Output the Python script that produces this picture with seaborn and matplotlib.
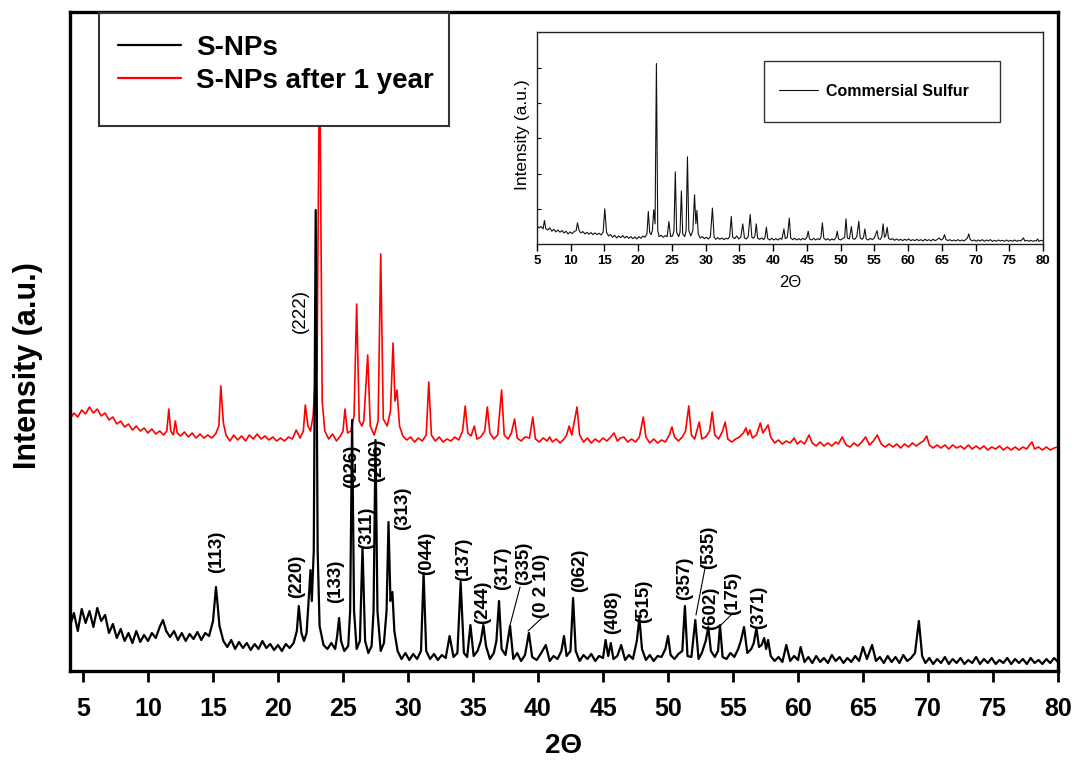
"""XRD patterns of S-NPs, fresh and aged, with commercial sulfur inset."""

import matplotlib.pyplot as plt
import numpy as np
import pandas as pd
import seaborn as sns
from matplotlib.lines import Line2D
from matplotlib.patches import Rectangle

# --- S-NPs (fresh), vertices (2theta, a.u.)
snp_theta = [
    4.0, 4.3, 4.6, 4.9, 5.2, 5.5, 5.8, 6.1, 6.4, 6.7, 7.0, 7.3, 7.6, 7.9, 8.2, 8.5, 8.8, 9.1, 9.4, 9.7,
    10.0, 10.3, 10.6, 10.9, 11.15, 11.4, 11.7, 12.0, 12.3, 12.6, 12.9, 13.2, 13.5, 13.8, 14.1, 14.4, 14.7,
    15.0, 15.23, 15.5, 15.8, 16.1, 16.4, 16.7, 17.0, 17.3, 17.6, 17.9, 18.2, 18.5, 18.8, 19.1, 19.4, 19.7,
    20.0, 20.3, 20.6, 20.9, 21.2, 21.45, 21.6, 21.8, 22.0, 22.2, 22.4, 22.5, 22.6, 22.75, 22.9, 23.05,
    23.2, 23.5, 23.8, 24.1, 24.4, 24.55, 24.7, 24.85, 25.1, 25.4, 25.55, 25.7, 25.85, 26.05, 26.3, 26.5,
    26.7, 26.95, 27.2, 27.35, 27.5, 27.65, 27.9, 28.15, 28.35, 28.5, 28.65, 28.8, 28.95, 29.2, 29.5, 29.8,
    30.1, 30.4, 30.7, 31.0, 31.2, 31.4, 31.7, 32.0, 32.3, 32.6, 32.9, 33.2, 33.5, 33.8, 34.05, 34.3,
    34.55, 34.8, 35.05, 35.35, 35.6, 35.8, 36.0, 36.3, 36.6, 36.8, 37.0, 37.2, 37.5, 37.85, 38.1, 38.4,
    38.7, 39.0, 39.3, 39.55, 39.9, 40.2, 40.6, 40.9, 41.2, 41.5, 41.8, 42.0, 42.2, 42.5, 42.7, 42.9,
    43.2, 43.5, 43.8, 44.1, 44.4, 44.7, 45.0, 45.2, 45.4, 45.6, 45.8, 46.1, 46.4, 46.7, 47.0, 47.3,
    47.6, 47.8, 48.0, 48.3, 48.6, 48.9, 49.2, 49.5, 49.8, 50.0, 50.2, 50.5, 50.8, 51.1, 51.3, 51.5,
    51.8, 52.1, 52.35, 52.6, 52.9, 53.1, 53.3, 53.6, 53.85, 54.0, 54.2, 54.5, 54.8, 55.1, 55.4, 55.6,
    55.85, 56.1, 56.4, 56.6, 56.8, 57.0, 57.2, 57.4, 57.55, 57.7, 57.9, 58.2, 58.5, 58.8, 59.1, 59.4,
    59.7, 60.0, 60.2, 60.5, 60.8, 61.1, 61.4, 61.7, 62.0, 62.3, 62.6, 62.9, 63.2, 63.5, 63.8, 64.1,
    64.4, 64.7, 65.0, 65.3, 65.7, 66.0, 66.3, 66.6, 66.9, 67.2, 67.5, 67.8, 68.1, 68.4, 68.7, 69.0,
    69.3, 69.55, 69.8, 70.1, 70.4, 70.7, 71.0, 71.3, 71.6, 71.9, 72.2, 72.5, 72.8, 73.1, 73.4, 73.7,
    74.0, 74.3, 74.6, 74.9, 75.2, 75.5, 75.8, 76.1, 76.4, 76.7, 77.0, 77.3, 77.6, 77.9, 78.2, 78.5,
    78.8, 79.1, 79.4, 79.7, 80.0,
]
snp_counts = [
    45, 58, 40, 62, 48, 60, 44, 63, 50, 56, 38, 47, 33, 42, 30, 38, 28, 40, 29, 36,
    30, 38, 33, 44, 51, 40, 34, 40, 31, 38, 30, 37, 32, 39, 31, 38, 35,
    50, 84, 45, 30, 24, 31, 22, 29, 23, 28, 21, 27, 22, 30, 23, 27, 21,
    26, 20, 27, 23, 28, 40, 65, 38, 30, 38, 80, 101, 70, 120, 461, 120,
    45, 26, 22, 28, 22, 35, 53, 30, 20, 25, 60, 251, 60, 22, 30, 124,
    30, 18, 25, 60, 231, 60, 20, 28, 60, 149, 70, 79, 40, 20, 12, 18,
    11, 17, 12, 20, 98, 20, 12, 17, 11, 16, 13, 35, 14, 18, 89, 18,
    14, 46, 15, 20, 30, 46, 25, 12, 18, 30, 70, 22, 16, 45, 12, 18,
    10, 16, 38, 14, 11, 17, 26, 10, 15, 12, 20, 35, 15, 20, 73, 20,
    10, 16, 12, 17, 10, 15, 13, 31, 15, 28, 12, 15, 26, 11, 16, 12,
    30, 53, 22, 11, 16, 10, 15, 14, 22, 35, 16, 12, 17, 20, 65, 15,
    14, 51, 12, 18, 30, 44, 20, 14, 20, 46, 14, 12, 18, 14, 22, 30,
    44, 18, 22, 28, 43, 24, 26, 33, 22, 31, 15, 10, 14, 9, 26, 10,
    15, 11, 24, 9, 14, 8, 15, 9, 13, 8, 16, 10, 14, 8, 13, 9,
    15, 10, 24, 12, 26, 10, 14, 8, 15, 9, 14, 8, 16, 10, 13, 18,
    50, 15, 8, 13, 7, 12, 8, 14, 7, 12, 8, 13, 7, 11, 8, 14,
    7, 12, 8, 13, 7, 11, 8, 13, 7, 12, 8, 12, 7, 13, 8, 11,
    7, 12, 8, 13, 9,
]

# --- S-NPs after 1 year
aged_theta = [
    4.0, 4.3, 4.6, 4.9, 5.2, 5.5, 5.8, 6.1, 6.4, 6.7, 7.0, 7.3, 7.6, 7.9, 8.2, 8.5, 8.8, 9.1, 9.4, 9.7,
    10.0, 10.3, 10.6, 10.9, 11.2, 11.45, 11.6, 11.75, 11.95, 12.1, 12.25, 12.5, 12.8, 13.1, 13.4, 13.7,
    14.0, 14.3, 14.6, 14.9, 15.2, 15.45, 15.6, 15.8, 16.0, 16.3, 16.6, 16.9, 17.2, 17.5, 17.8, 18.1,
    18.4, 18.7, 19.0, 19.3, 19.6, 19.9, 20.2, 20.5, 20.8, 21.1, 21.4, 21.7, 21.95, 22.1, 22.3, 22.5,
    22.7, 22.85, 23.0, 23.2, 23.4, 23.6, 23.9, 24.2, 24.5, 24.8, 25.0, 25.15, 25.35, 25.6, 25.85, 26.05,
    26.25, 26.45, 26.6, 26.9, 27.1, 27.4, 27.7, 27.9, 28.1, 28.4, 28.65, 28.85, 29.0, 29.15, 29.35, 29.6,
    29.9, 30.2, 30.5, 30.8, 31.1, 31.4, 31.6, 31.8, 32.1, 32.4, 32.7, 33.0, 33.3, 33.6, 33.9, 34.2,
    34.4, 34.6, 34.85, 35.1, 35.3, 35.6, 35.9, 36.1, 36.3, 36.6, 36.9, 37.2, 37.4, 37.7, 37.95, 38.2,
    38.4, 38.7, 39.0, 39.35, 39.6, 39.8, 40.1, 40.4, 40.7, 40.9, 41.1, 41.4, 41.7, 42.0, 42.2, 42.4,
    42.6, 43.0, 43.2, 43.5, 43.8, 44.1, 44.4, 44.7, 45.0, 45.3, 45.6, 45.85, 46.1, 46.35, 46.6, 46.9,
    47.2, 47.5, 47.8, 48.1, 48.3, 48.6, 48.9, 49.2, 49.5, 49.8, 50.1, 50.3, 50.5, 50.8, 51.1, 51.35,
    51.6, 51.8, 52.05, 52.4, 52.6, 52.9, 53.2, 53.4, 53.6, 53.9, 54.2, 54.4, 54.6, 54.9, 55.2, 55.5,
    55.8, 56.0, 56.15, 56.3, 56.5, 56.8, 57.1, 57.3, 57.5, 57.7, 57.9, 58.2, 58.5, 58.8, 59.1, 59.4,
    59.7, 59.95, 60.2, 60.5, 60.85, 61.1, 61.4, 61.7, 62.0, 62.3, 62.6, 62.9, 63.1, 63.4, 63.7, 64.0,
    64.3, 64.6, 64.9, 65.2, 65.5, 65.8, 66.1, 66.4, 66.7, 67.0, 67.3, 67.6, 67.9, 68.2, 68.5, 68.8,
    69.1, 69.4, 69.65, 69.9, 70.1, 70.4, 70.7, 71.0, 71.3, 71.6, 71.9, 72.2, 72.5, 72.8, 73.1, 73.4,
    73.7, 74.0, 74.3, 74.6, 74.9, 75.2, 75.5, 75.8, 76.1, 76.4, 76.7, 77.0, 77.3, 77.6, 77.8, 78.0,
    78.2, 78.5, 78.8, 79.1, 79.4, 79.7, 80.0,
]
aged_counts = [
    252, 258, 254, 261, 257, 264, 258, 262, 255, 258, 251, 254, 247, 250, 244, 247, 241, 245, 240, 243,
    238, 242, 237, 240, 236, 240, 262, 240, 236, 250, 238, 235, 239, 234, 238, 233,
    237, 233, 236, 233, 237, 245, 285, 248, 236, 230, 236, 231, 235, 230, 236, 232,
    237, 232, 235, 231, 234, 230, 233, 230, 234, 232, 241, 233, 240, 266, 245, 240,
    255, 288, 300, 630, 270, 240, 232, 237, 230, 235, 240, 262, 238, 240, 255, 367,
    250, 245, 250, 316, 245, 236, 250, 417, 252, 245, 260, 328, 270, 281, 245, 235,
    231, 234, 229, 233, 230, 236, 289, 236, 230, 234, 229, 232, 230, 234, 231, 240,
    265, 238, 235, 245, 232, 234, 240, 264, 238, 232, 236, 281, 236, 232, 238, 252,
    233, 230, 234, 233, 254, 232, 229, 233, 230, 234, 229, 232, 228, 232, 236, 245,
    236, 264, 236, 229, 233, 228, 232, 229, 233, 230, 234, 238, 230, 233, 234, 229,
    232, 229, 234, 254, 234, 228, 232, 228, 231, 229, 236, 244, 234, 230, 234, 240,
    265, 236, 232, 249, 232, 234, 240, 259, 236, 232, 240, 249, 232, 229, 232, 234,
    238, 243, 236, 241, 233, 236, 248, 238, 242, 246, 234, 228, 231, 227, 230, 228,
    233, 227, 230, 227, 236, 228, 225, 229, 225, 228, 225, 229, 227, 234, 226, 224,
    228, 225, 229, 234, 226, 230, 236, 227, 224, 227, 224, 227, 223, 227, 224, 228,
    225, 228, 230, 235, 226, 223, 226, 223, 226, 222, 226, 223, 225, 222, 226, 222,
    225, 222, 225, 221, 224, 222, 225, 221, 224, 221, 224, 221, 224, 222, 226, 229,
    222, 224, 221, 224, 221, 223, 224,
]

# --- commercial sulfur (inset)
comm_theta = [
    5.0, 5.3, 5.6, 5.9, 6.1, 6.3, 6.6, 6.9, 7.2, 7.5, 7.8, 8.1, 8.4, 8.7, 9.0, 9.3, 9.6, 9.9, 10.2,
    10.5, 10.8, 11.0, 11.25, 11.5, 11.8, 12.1, 12.4, 12.7, 13.0, 13.3, 13.6, 13.9, 14.2, 14.5, 14.8,
    15.05, 15.3, 15.6, 15.9, 16.2, 16.5, 16.8, 17.1, 17.4, 17.7, 18.0, 18.3, 18.6, 18.9, 19.2, 19.5,
    19.8, 20.1, 20.4, 20.7, 21.0, 21.3, 21.5, 21.7, 21.9, 22.1, 22.3, 22.5, 22.7, 22.9, 23.1, 23.4,
    23.7, 24.0, 24.3, 24.55, 24.8, 25.1, 25.3, 25.5, 25.7, 26.0, 26.2, 26.4, 26.6, 26.9, 27.1, 27.3,
    27.5, 27.8, 28.1, 28.35, 28.55, 28.7, 28.9, 29.2, 29.5, 29.8, 30.1, 30.4, 30.7, 31.0, 31.25, 31.5,
    31.8, 32.1, 32.4, 32.7, 33.0, 33.3, 33.55, 33.8, 34.0, 34.3, 34.6, 34.9, 35.2, 35.5, 35.75, 36.0,
    36.3, 36.6, 36.85, 37.1, 37.3, 37.5, 37.7, 38.0, 38.3, 38.6, 38.8, 39.0, 39.2, 39.5, 39.8, 40.1,
    40.4, 40.7, 41.0, 41.3, 41.6, 41.8, 42.1, 42.4, 42.6, 42.9, 43.2, 43.5, 43.8, 44.1, 44.4, 44.7,
    45.0, 45.2, 45.4, 45.7, 46.0, 46.3, 46.6, 46.9, 47.1, 47.3, 47.5, 47.8, 48.1, 48.4, 48.7, 49.0,
    49.3, 49.5, 49.7, 50.0, 50.3, 50.6, 50.8, 51.0, 51.3, 51.6, 51.8, 52.1, 52.4, 52.7, 52.9, 53.2,
    53.4, 53.6, 53.8, 54.1, 54.4, 54.7, 55.0, 55.4, 55.6, 55.9, 56.1, 56.3, 56.5, 56.7, 56.9, 57.1,
    57.4, 57.7, 58.0, 58.3, 58.6, 58.9, 59.2, 59.5, 59.8, 60.1, 60.4, 60.7, 61.0, 61.3, 61.6, 61.9,
    62.2, 62.5, 62.8, 63.1, 63.4, 63.7, 64.0, 64.3, 64.6, 64.9, 65.2, 65.4, 65.6, 65.9, 66.2, 66.5,
    66.8, 67.1, 67.4, 67.7, 68.0, 68.3, 68.6, 68.8, 69.0, 69.2, 69.5, 69.8, 70.1, 70.4, 70.7, 71.0,
    71.3, 71.6, 71.9, 72.2, 72.5, 72.8, 73.1, 73.4, 73.7, 74.0, 74.3, 74.6, 74.9, 75.2, 75.5, 75.8,
    76.1, 76.4, 76.7, 77.1, 77.3, 77.6, 77.9, 78.2, 78.5, 78.8, 79.0, 79.2, 79.4, 79.7, 80.0,
]
comm_counts = [
    55, 48, 52, 45, 70, 46, 42, 48, 38, 44, 36, 42, 35, 40, 33, 38, 30, 36, 31,
    37, 40, 63, 40, 33, 37, 30, 35, 29, 34, 28, 33, 28, 32, 27, 35,
    105, 35, 24, 28, 20, 26, 18, 24, 19, 25, 18, 23, 17, 22, 16, 21,
    15, 22, 17, 24, 20, 30, 97, 35, 28, 40, 102, 60, 538, 40, 22, 26,
    20, 25, 22, 67, 22, 24, 40, 215, 35, 22, 35, 158, 30, 22, 40, 260,
    40, 24, 40, 147, 60, 100, 30, 18, 22, 16, 20, 15, 22, 107, 20, 14,
    19, 14, 18, 13, 17, 15, 22, 82, 20, 16, 24, 15, 20, 60, 18, 15,
    22, 88, 20, 17, 24, 60, 17, 14, 18, 13, 20, 50, 16, 12, 17, 12,
    16, 12, 17, 14, 45, 16, 20, 77, 18, 13, 17, 12, 16, 12, 17, 13,
    20, 38, 15, 12, 17, 12, 16, 13, 22, 63, 18, 12, 16, 11, 15, 12,
    18, 38, 15, 12, 16, 20, 75, 18, 15, 52, 16, 14, 22, 68, 18, 14,
    20, 45, 15, 12, 17, 13, 18, 40, 16, 14, 22, 60, 20, 25, 50, 17,
    13, 16, 11, 15, 11, 14, 10, 14, 11, 15, 10, 13, 10, 14, 10, 13,
    9, 14, 10, 13, 9, 14, 10, 13, 18, 12, 16, 28, 14, 10, 13, 9,
    12, 9, 13, 9, 12, 9, 14, 18, 30, 14, 9, 12, 8, 12, 9, 13,
    8, 12, 9, 13, 8, 11, 8, 12, 9, 11, 8, 12, 8, 11, 8, 12,
    8, 11, 9, 18, 9, 11, 8, 11, 8, 10, 9, 15, 8, 11, 9,
]

# Miller indices and where their labels sit (2theta, a.u.)
hkl_labels = ["(113)", "(220)", "(222)", "(133)", "(026)", "(311)", "(206)", "(313)", "(044)",
              "(137)", "(244)", "(317)", "(335)", "(0 2 10)", "(062)", "(408)", "(515)", "(357)",
              "(535)", "(602)", "(175)", "(371)"]
hkl_theta = [15.3, 21.45, 21.7, 24.45, 25.7, 26.85, 27.6, 29.55, 31.4, 34.25, 35.75, 37.3, 38.9,
             40.3, 43.2, 45.75, 48.1, 51.25, 53.1, 53.25, 55.0, 57.0]
hkl_y = [119, 95, 360, 90, 205, 143, 211, 163, 118, 112, 69, 103, 108, 85, 101, 59, 70, 93, 124,
         63, 78, 64]

# leader lines from a label to its peak
leader_from = [(38.62, 84), (40.38, 54), (52.85, 103), (55.0, 58)]
leader_to = [(37.85, 46), (39.23, 40), (52.15, 56), (54.08, 46)]

W, H = 1074, 762

sns.set_theme(style="ticks")
plt.rcParams["font.family"] = ["Liberation Sans", "DejaVu Sans"]
plt.rcParams["text.color"] = "black"
plt.rcParams["axes.labelcolor"] = "black"
plt.rcParams["xtick.color"] = "black"
plt.rcParams["ytick.color"] = "black"

fig = plt.figure(figsize=(W / 100, H / 100), dpi=100)
ax = fig.add_axes([70 / W, 1 - 671 / H, 988 / W, 659 / H])

df_snp = pd.DataFrame({"theta": snp_theta, "counts": snp_counts})
df_aged = pd.DataFrame({"theta": aged_theta, "counts": aged_counts})
df_comm = pd.DataFrame({"theta": comm_theta, "counts": comm_counts})

sns.lineplot(data=df_aged, x="theta", y="counts", ax=ax, color="#ff0000", lw=1.2,
             estimator=None, sort=False, zorder=2)
sns.lineplot(data=df_snp, x="theta", y="counts", ax=ax, color="black", lw=1.6,
             estimator=None, sort=False, zorder=3)

for lab, tx, ty in zip(hkl_labels, hkl_theta, hkl_y):
    ax.text(tx, ty, lab, rotation=90, ha="center", va="center", fontsize=13.5,
            fontweight="normal" if lab == "(222)" else "bold", zorder=4)
for (x0, y0), (x1, y1) in zip(leader_from, leader_to):
    ax.plot([x0, x1], [y0, y1], color="black", lw=0.8, zorder=4)

ax.set_xlim(4, 80)
ax.set_ylim(0, 659)
ax.set_xticks(np.arange(5, 81, 5))
ax.set_yticks([])
ax.tick_params(axis="x", direction="out", length=8, width=2, pad=11, labelsize=18)
for t in ax.get_xticklabels():
    t.set_fontweight("bold")
for sp in ax.spines.values():
    sp.set_visible(True)
    sp.set_linewidth(2.4)
    sp.set_color("black")
ax.set_xlabel("")
ax.set_ylabel("")
fig.text(564 / W, 1 - 746 / H, "2Θ", ha="center", va="center", fontsize=20, fontweight="bold")
fig.text(28 / W, 1 - 366 / H, "Intensity (a.u.)", rotation=90, ha="center", va="center",
         fontsize=22, fontweight="bold")

# main legend: white box drawn by hand, entries on top of it
ax.add_patch(Rectangle((99 / W, 1 - 126 / H), 350 / W, 113 / H, transform=fig.transFigure,
                       facecolor="white", edgecolor="#333333", lw=1.5, zorder=9, clip_on=False))
handles = [Line2D([], [], color="black", lw=1.6), Line2D([], [], color="#ff0000", lw=1.6)]
leg = ax.legend(handles, ["S-NPs", "S-NPs after 1 year"], loc="upper left",
                bbox_to_anchor=(118 / W, 1 - 35 / H), bbox_transform=fig.transFigure,
                borderaxespad=0, borderpad=0, frameon=False,
                prop={"size": 20, "weight": "bold"}, handlelength=2.27, handletextpad=0.54,
                labelspacing=0.25)
leg.set_zorder(10)

# inset: commercial sulfur
ins = fig.add_axes([537 / W, 1 - 244 / H, 506 / W, 212 / H])
ins.set_facecolor("white")
sns.lineplot(data=df_comm, x="theta", y="counts", ax=ins, color="#111111", lw=0.8,
             estimator=None, sort=False)
ins.set_xlim(5, 80)
ins.set_ylim(0, 632)
ins.set_xticks(np.arange(5, 81, 5))
ins.set_yticks([105, 210, 315, 420, 525])
ins.set_yticklabels([])
ins.tick_params(axis="x", direction="out", length=5, width=1, pad=3, labelsize=9.5)
ins.tick_params(axis="y", direction="in", length=3, width=0.8)
for t in ins.get_xticklabels():
    t.set_fontweight("bold")
for sp in ins.spines.values():
    sp.set_visible(True)
    sp.set_linewidth(1.0)
    sp.set_color("#222222")
ins.set_xlabel("")
ins.set_ylabel("")
fig.text(790 / W, 1 - 283 / H, "2Θ", ha="center", va="center", fontsize=12)
fig.text(522 / W, 1 - 135 / H, "Intensity (a.u.)", rotation=90, ha="center", va="center",
         fontsize=12.5)

ins.add_patch(Rectangle((764 / W, 1 - 122 / H), 236 / W, 61 / H, transform=fig.transFigure,
                        facecolor="white", edgecolor="#333333", lw=1.0, zorder=9, clip_on=False))
ileg = ins.legend([Line2D([], [], color="#111111", lw=0.8)], ["Commersial Sulfur"],
                  loc="center left", bbox_to_anchor=(779 / W, 1 - 91.5 / H),
                  bbox_transform=fig.transFigure, borderaxespad=0, borderpad=0, frameon=False,
                  prop={"size": 11.5, "weight": "bold"}, handlelength=2.44, handletextpad=0.5)
ileg.set_zorder(10)

fig.savefig("out.png", dpi=100)
plt.close(fig)
